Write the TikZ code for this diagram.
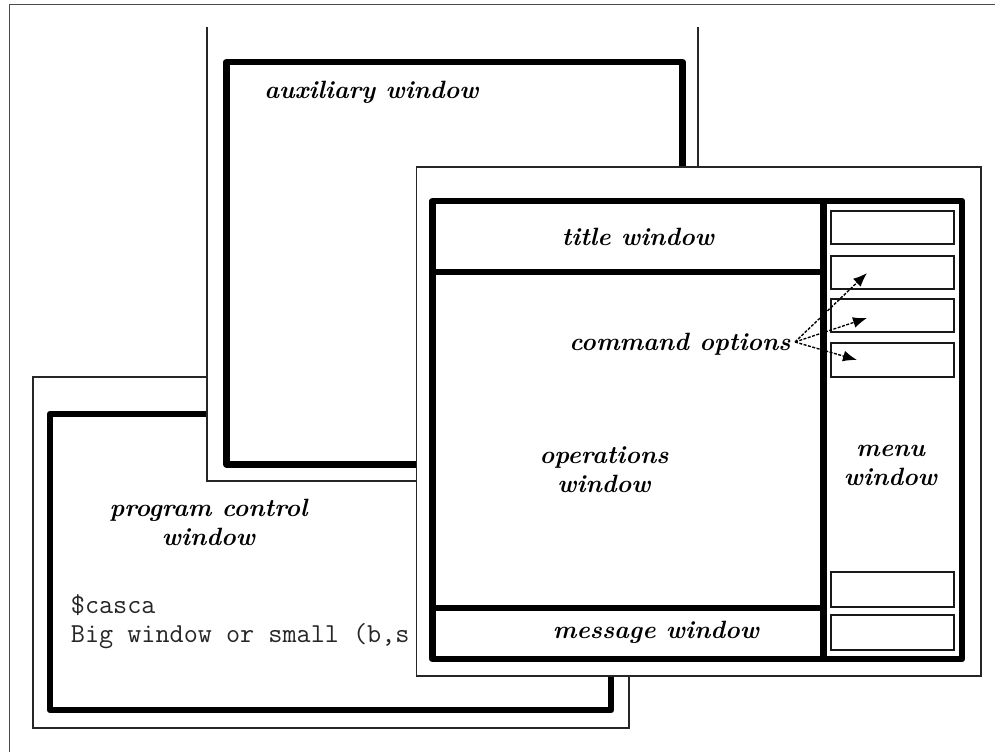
\documentclass[tikz,border=0pt]{standalone}
\usepackage{fontspec}
\usetikzlibrary{arrows.meta}
\tikzset{
  thinframe/.style={line width=1.3pt, draw=black!85},
  thickframe/.style={line width=6.5pt, draw=black, line join=round},
  menubox/.style={line width=2pt, draw=black!90},
  lbl/.style={font=\fontsize{25}{29}\selectfont\bfseries\itshape\addfontfeatures{FakeBold=0.7}, inner sep=0pt, anchor=base, align=center},
  ttlbl/.style={font=\fontsize{27.4}{29}\selectfont\ttfamily, text=black!85, inner sep=0pt, anchor=base west, align=left},
  ptr/.style={line width=1.4pt, dash pattern=on 3pt off 1.5pt, -{Latex[length=14pt,width=11pt]}}
}
\begin{document}
\begin{tikzpicture}[x=1pt,y=-1pt]
\useasboundingbox (0,0) rectangle (995,752);
\fill[white] (0,0) rectangle (995,752);
% outer frame (left and top only)
\draw[line width=1.6pt, draw=black!70] (9.5,752) -- (9.5,4.5) -- (995,4.5);

% program control window
\draw[thinframe, fill=white] (33,377) rectangle (629,728);
\draw[thickframe] (50,414) rectangle (611,710);
\node[lbl] (prog) at (208.5,545) {program control\\window};
\node[ttlbl] (term) at (70.7,642) {\$casca\\Big window or small (b,s};

% auxiliary window
\fill[white] (207,27) rectangle (698,481);
\draw[thinframe] (207,27) -- (207,481) -- (698,481) -- (698,27);
\draw[thickframe] (226.5,62) rectangle (682.5,464.5);
\node[lbl] (aux) at (371.5,98) {auxiliary window};

% operations display
\draw[thinframe, fill=white] (416.5,167) rectangle (981,676);
\draw[thickframe] (432.5,201) rectangle (962,659);
\draw[thickframe] (823.5,201) -- (823.5,659);
\draw[thickframe] (432.5,272) -- (823.5,272);
\draw[thickframe] (432.5,608) -- (823.5,608);
\draw[menubox] (830.5,211) rectangle (953.5,244);
\draw[menubox] (830.5,256) rectangle (953.5,289);
\draw[menubox] (830.5,299) rectangle (953.5,332);
\draw[menubox] (830.5,343) rectangle (953.5,376.5);
\draw[menubox] (830.5,572) rectangle (953.5,607);
\draw[menubox] (830.5,615) rectangle (953.5,650);

\node[lbl] (title) at (638,245) {title window};
\node[lbl] (cmd) at (680,350) {command options};
\node[lbl] (ops) at (604,492) {operations\\window};
\node[lbl] (menu) at (890.5,485) {menu\\window};
\node[lbl] (msg) at (656,638) {message window};

\coordinate (cmdpt) at (795,342);
\coordinate (t1) at (867,273);
\coordinate (t2) at (867,318);
\coordinate (t3) at (857,360);
\draw[ptr] (cmdpt) -- (t1);
\draw[ptr] (cmdpt) -- (t2);
\draw[ptr] (cmdpt) -- (t3);
\end{tikzpicture}
\end{document}
